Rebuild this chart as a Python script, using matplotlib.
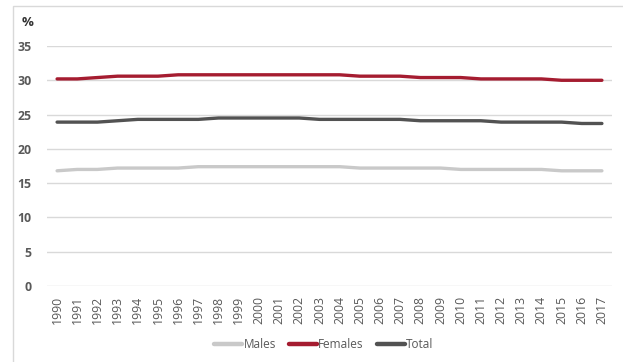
import matplotlib.pyplot as plt
from matplotlib.patches import Rectangle

years = list(range(1990, 2018))
males = [16.8, 17.0, 17.0, 17.2, 17.2, 17.2, 17.2, 17.4, 17.4, 17.4,
         17.4, 17.4, 17.4, 17.4, 17.4, 17.2, 17.2, 17.2, 17.2, 17.2,
         17.0, 17.0, 17.0, 17.0, 17.0, 16.8, 16.8, 16.8]
females = [30.2, 30.2, 30.4, 30.6, 30.6, 30.6, 30.8, 30.8, 30.8, 30.8,
           30.8, 30.8, 30.8, 30.8, 30.8, 30.6, 30.6, 30.6, 30.4, 30.4,
           30.4, 30.2, 30.2, 30.2, 30.2, 30.0, 30.0, 30.0]
total = [23.9, 23.9, 23.9, 24.1, 24.3, 24.3, 24.3, 24.3, 24.5, 24.5,
         24.5, 24.5, 24.5, 24.3, 24.3, 24.3, 24.3, 24.3, 24.1, 24.1,
         24.1, 24.1, 23.9, 23.9, 23.9, 23.9, 23.7, 23.7]
yticks = [0, 5, 10, 15, 20, 25, 30, 35]

plt.rcParams["font.family"] = ["Open Sans", "DejaVu Sans"]
txt_col = "#595959"

fig = plt.figure(figsize=(6.23, 3.62), dpi=100)

# chart frame
fig.patches.append(Rectangle((13 / 623, -0.1), 1.2, 1 - 6 / 362 + 0.1,
                             transform=fig.transFigure, fill=False,
                             edgecolor="#d9d9d9", linewidth=1.0))

ax = fig.add_axes([47 / 623, 1 - 286 / 362, 565 / 623, 240 / 362])
x = range(len(years))
ax.plot(x, males, color="#c9c9c9", lw=2.4, label="Males", solid_capstyle="round")
ax.plot(x, females, color="#a51c30", lw=2.4, label="Females", solid_capstyle="round")
ax.plot(x, total, color="#525252", lw=2.4, label="Total", solid_capstyle="round")

ax.set_xlim(-0.5, len(years) - 0.5)
ax.set_ylim(0, 35)
ax.set_yticks(yticks)
ax.set_yticklabels([str(v) for v in yticks], fontweight="bold")
ax.set_xticks(list(x))
ax.set_xticklabels([str(y) for y in years], rotation=90)
ax.tick_params(axis="both", length=0, colors=txt_col, labelsize=8.8)
ax.tick_params(axis="y", pad=11)
ax.tick_params(axis="x", pad=7)
ax.grid(axis="y", color="#d9d9d9", lw=1.0)
ax.set_axisbelow(True)
for s in ax.spines.values():
    s.set_visible(False)

fig.text(28 / 623, 1 - 23 / 362, "%", fontsize=9.5, fontweight="bold",
         color="#333333", ha="center", va="center")

leg = ax.legend(loc="center", bbox_to_anchor=(0.49, -0.244), ncol=3, frameon=False,
                fontsize=8.5, handlelength=2.4, handletextpad=0.1, columnspacing=1.1,
                labelcolor=txt_col)
for h in leg.get_lines():
    h.set_linewidth(3.2)

fig.savefig("out.png", dpi=100)
